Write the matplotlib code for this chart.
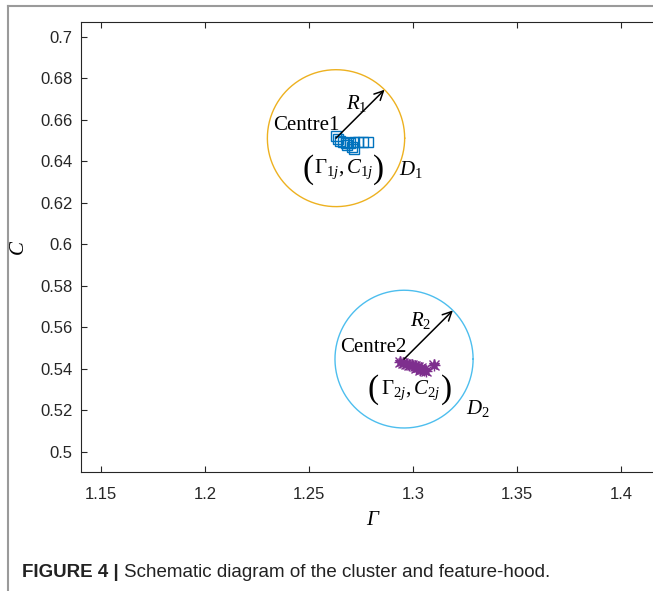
import numpy as np
import matplotlib
matplotlib.use('Agg')
import matplotlib.pyplot as plt
from matplotlib.lines import Line2D

plt.rcParams['font.family'] = ['Liberation Sans', 'DejaVu Sans']
plt.rcParams['mathtext.fontset'] = 'custom'
plt.rcParams['mathtext.rm'] = 'Liberation Serif'
plt.rcParams['mathtext.it'] = 'Liberation Serif:italic'

################# data

# cluster 1 (squares)
g1 = [1.2630, 1.2639, 1.2649, 1.2663, 1.2678, 1.2697, 1.2716, 1.2736,
      1.2760, 1.2784, 1.2707, 1.2716, 1.2683]
c1 = [0.6522, 0.6507, 0.6498, 0.6493, 0.6488, 0.6488, 0.6493, 0.6493,
      0.6493, 0.6493, 0.6469, 0.6459, 0.6478]

# cluster 2 (asterisks)
g2 = [1.2938, 1.2952, 1.2966, 1.2981, 1.2995, 1.3010, 1.3024, 1.3038,
      1.3034, 1.3053, 1.3063, 1.3101, 1.3014]
c2 = [0.5435, 0.5430, 0.5425, 0.5420, 0.5420, 0.5415, 0.5411, 0.5406,
      0.5396, 0.5396, 0.5391, 0.5420, 0.5406]

centre1 = (1.2630, 0.6512)
centre2 = (1.2957, 0.5447)
radius1 = 0.0330
radius2 = 0.0332

xticks = [1.15, 1.2, 1.25, 1.3, 1.35, 1.4]
yticks = [0.5, 0.52, 0.54, 0.56, 0.58, 0.6, 0.62, 0.64, 0.66, 0.68, 0.7]

blue = '#0072BD'
purple = '#7E2F8E'
orange = '#EDB120'
cyan = '#4DBEEE'

################# figure

fig = plt.figure(figsize=(6.53, 5.91), dpi=100)
ax = fig.add_axes([0.124, 0.2014, 0.892, 0.7614])

t = np.linspace(0, 2 * np.pi, 400)
ax.plot(centre1[0] + radius1 * np.cos(t), centre1[1] + radius1 * np.sin(t),
        color=orange, lw=1.0)
ax.plot(centre2[0] + radius2 * np.cos(t), centre2[1] + radius2 * np.sin(t),
        color=cyan, lw=1.0)

ax.plot(g1, c1, 's', mfc='none', mec=blue, ms=7, mew=1.0, ls='none')
ax.plot(g2, c2, '*', color=purple, ms=8, mew=1.0, ls='none')
ax.plot(g2, c2, '+', color=purple, ms=9, mew=1.0, ls='none')
ax.plot(g2, c2, 'x', color=purple, ms=7, mew=1.0, ls='none')

# radius arrows at 45 deg
for c, r in [(centre1, radius1), (centre2, radius2)]:
    tip = (c[0] + r * np.cos(np.pi / 4), c[1] + r * np.sin(np.pi / 4))
    ax.annotate('', xy=tip, xytext=c,
                arrowprops=dict(arrowstyle='->', color='black', lw=1.1,
                                mutation_scale=16, shrinkA=0, shrinkB=0))

serif = 'Liberation Serif'


def point_label(x, y, sub, xl, xr):
    # (Gamma_ij, C_ij) with tall brackets
    ax.text(x, y, r'$\Gamma_{%sj},C_{%sj}$' % (sub, sub), fontsize=15,
            ha='center', va='center')
    ax.text(xl, y, '(', family=serif, fontsize=24, ha='center', va='center')
    ax.text(xr, y, ')', family=serif, fontsize=24, ha='center', va='center')


ax.text(1.2731, 0.6681, '$R_1$', fontsize=15, ha='center', va='center')
ax.text(1.2486, 0.6575, 'Centre1', family=serif, fontsize=15,
        ha='center', va='center')
point_label(1.2665, 0.6362, '1', 1.2496, 1.2836)
ax.text(1.2990, 0.6362, '$D_1$', fontsize=15, ha='center', va='center')

ax.text(1.3038, 0.5633, '$R_2$', fontsize=15, ha='center', va='center')
ax.text(1.2808, 0.5502, 'Centre2', family=serif, fontsize=15,
        ha='center', va='center')
point_label(1.2988, 0.5299, '2', 1.2809, 1.3163)
ax.text(1.3313, 0.5208, '$D_2$', fontsize=15, ha='center', va='center')

ax.set_xlim(1.1404, 1.4204)
ax.set_ylim(0.4903, 0.7072)
ax.set_xticks(xticks)
ax.set_xticklabels(['1.15', '1.2', '1.25', '1.3', '1.35', '1.4'])
ax.set_yticks(yticks)
ax.set_yticklabels(['0.5', '0.52', '0.54', '0.56', '0.58', '0.6', '0.62',
                    '0.64', '0.66', '0.68', '0.7'])
ax.tick_params(direction='in', length=4, width=0.8, top=True, right=True,
               labelsize=12, colors='#262626')
ax.tick_params(axis='x', pad=11)
ax.tick_params(axis='y', pad=6)
for s in ax.spines.values():
    s.set_linewidth(0.8)
    s.set_color('#262626')

ax.set_xlabel('Γ', family=serif, style='italic', fontsize=15, labelpad=6)
ax.set_ylabel('C', family=serif, style='italic', fontsize=15, labelpad=9)

# page frame
fig.add_artist(Line2D([8 / 653, 1], [1 - 6 / 591, 1 - 6 / 591],
                      transform=fig.transFigure, color='#9a9a9a', lw=1.5))
fig.add_artist(Line2D([8 / 653, 8 / 653], [0, 1 - 6 / 591],
                      transform=fig.transFigure, color='#9a9a9a', lw=1.5))

# caption
t1 = fig.text(22 / 653, 1 - 577 / 591, 'FIGURE 4 |', fontsize=13.5,
              weight='bold', color='#222222', va='baseline')
ax.annotate('Schematic diagram of the cluster and feature-hood.',
            xy=(1, 0), xycoords=t1, xytext=(4, 0), textcoords='offset points',
            fontsize=13.5, color='#222222', va='bottom', annotation_clip=False)

fig.savefig('out.png', dpi=100)
